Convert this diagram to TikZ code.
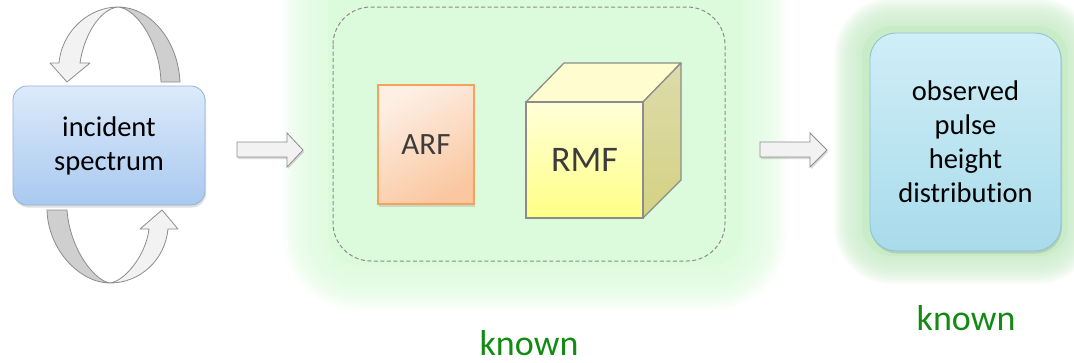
\documentclass[tikz,border=0pt]{standalone}
\usepackage{fontspec}
\setmainfont{Carlito}[Ligatures=NoCommon]
\usetikzlibrary{shadows}

\definecolor{glowmid}{HTML}{DCFADC}
\definecolor{glowout}{HTML}{C8EBC8}
\definecolor{incTop}{HTML}{DCEAFB}
\definecolor{incBot}{HTML}{A9C9EF}
\definecolor{incEdge}{HTML}{93B3DB}
\definecolor{obsTop}{HTML}{D0EEF7}
\definecolor{obsBot}{HTML}{A8DBEB}
\definecolor{obsEdge}{HTML}{8DBFCE}
\definecolor{arfLight}{HTML}{FDEFE4}
\definecolor{arfDeep}{HTML}{FAC7A0}
\definecolor{arfEdge}{HTML}{F6A25A}
\definecolor{cubeTop}{HTML}{FFFFD8}
\definecolor{cubeBot}{HTML}{FFFF86}
\definecolor{cubeLid}{HTML}{FFFDD0}
\definecolor{cubeSideTop}{HTML}{DDDBAA}
\definecolor{cubeSideBot}{HTML}{D4D282}
\definecolor{edgeGray}{HTML}{8C8C8C}
\definecolor{bandLight}{HTML}{F2F2F2}
\definecolor{bandDark}{HTML}{CFCFCF}
\definecolor{knownGreen}{HTML}{138A13}
\definecolor{labelGray}{HTML}{3C3C3C}

\tikzset{
  softshadow/.style={drop shadow={opacity=0.25, shadow xshift=1pt, shadow yshift=-2.5pt}},
  bodytext/.style={font=\fontsize{28.5}{34}\selectfont, align=center, inner sep=0pt},
  inbox/.style={rounded corners=14pt, draw=incEdge, line width=0.8pt,
    top color=incTop, bottom color=incBot, minimum width=192pt, minimum height=119pt,
    softshadow, bodytext, text=black},
  outbox/.style={rounded corners=26pt, draw=obsEdge, line width=0.8pt,
    top color=obsTop, bottom color=obsBot, minimum width=191pt, minimum height=218pt,
    softshadow, bodytext, text=black},
  arfbox/.style={draw=arfEdge, line width=1.3pt, top color=arfLight, bottom color=arfDeep,
    shading angle=30, minimum width=96pt, minimum height=119pt, softshadow,
    font=\fontsize{31}{36}\selectfont, text=labelGray, inner sep=0pt},
  cubefront/.style={draw=edgeGray, line width=1.3pt, top color=cubeTop, bottom color=cubeBot,
    minimum width=117pt, minimum height=116pt, font=\fontsize{36}{42}\selectfont,
    text=labelGray, inner sep=0pt},
  cubeface/.style={draw=edgeGray, line width=1.3pt, line join=round},
  bandlight/.style={fill=bandLight, draw=edgeGray, line width=0.8pt, line join=round},
  banddark/.style={fill=bandDark, draw=edgeGray, line width=0.8pt, line join=round},
  blockarrow/.style={fill=bandLight, draw=edgeGray, line width=0.8pt, line join=miter,
    drop shadow={opacity=0.3, shadow xshift=1pt, shadow yshift=-2pt}},
  frame/.style={draw=edgeGray, line width=1pt, dash pattern=on 4pt off 2.5pt, rounded corners=38pt},
  known/.style={font=\fontsize{36}{43}\selectfont, text=knownGreen, inner sep=0pt, anchor=base}
}

\begin{document}
\begin{tikzpicture}[x=1pt, y=-1pt]
\useasboundingbox (0,0) rectangle (1074,362);

% soft green halo behind the response group
\foreach \d in {2.5,5,...,45} {
  \pgfmathsetmacro{\r}{30+\d}
  \fill[glowmid, fill opacity=0.11, rounded corners=\r pt]
    (328-\d,-40-\d) rectangle (742+\d,265+\d);
}
\fill[glowmid, rounded corners=30pt] (328,-40) rectangle (742,265);

% green halo behind the observed data
\foreach \d in {2,4,...,28} {
  \pgfmathsetmacro{\r}{30+\d}
  \fill[glowout, fill opacity=0.12, rounded corners=\r pt]
    (862-\d,26-\d) rectangle (1068+\d,256+\d);
}
\fill[glowout, rounded corners=30pt] (862,26) rectangle (1068,256);

% dashed frame around the instrument responses
\draw[frame] (333,7) rectangle (725,261);

% incident spectrum and its circular arrows
\node[inbox] (inc) at (109,145.5) {incident\\spectrum};

\filldraw[banddark] (118,7) .. controls (150,7) and (178,40) .. (180,82)
  -- (161,82) .. controls (160,45) and (138,9) .. (118,7) -- cycle;
\filldraw[bandlight] (118,7) .. controls (90,7) and (62,30) .. (59,63)
  -- (50,63) -- (67,82) -- (90,63) -- (80,63)
  .. controls (84,35) and (100,9) .. (118,7) -- cycle;

\filldraw[banddark] (47,210) .. controls (48,250) and (80,283) .. (110,283)
  .. controls (95,281) and (70,250) .. (67,210) -- cycle;
\filldraw[bandlight] (110,283) .. controls (140,283) and (165,260) .. (168,229)
  -- (178,229) -- (162,210) -- (140,229) -- (149,229)
  .. controls (146,255) and (125,281) .. (110,283) -- cycle;

% ARF panel
\node[arfbox] (arf) at (426,144.5) {ARF};

% RMF cube: front face plus lid and side
\filldraw[cubeface, fill=cubeLid] (526,102) -- (564,63) -- (681,63) -- (643,102) -- cycle;
\shade[top color=cubeSideTop, bottom color=cubeSideBot] (643,102) -- (681,63) -- (681,180) -- (643,218) -- cycle;
\draw[cubeface] (643,102) -- (681,63) -- (681,180) -- (643,218);
\node[cubefront] (rmf) at (584.5,160) {RMF};

% observed pulse height distribution
\node[outbox] (obs) at (965.5,142) {observed\\pulse\\height\\distribution};

% block arrows between the stages
\filldraw[blockarrow] (237,142) -- (287,142) -- (287,133) -- (303,150)
  -- (287,167) -- (287,157) -- (237,157) -- cycle;
\filldraw[blockarrow] (760,142) -- (810,142) -- (810,133) -- (827,150)
  -- (810,167) -- (810,157) -- (760,157) -- cycle;

% labels
\node[known] (k1) at (529,355) {known};
\node[known] (k2) at (966,330) {known};
\end{tikzpicture}
\end{document}
